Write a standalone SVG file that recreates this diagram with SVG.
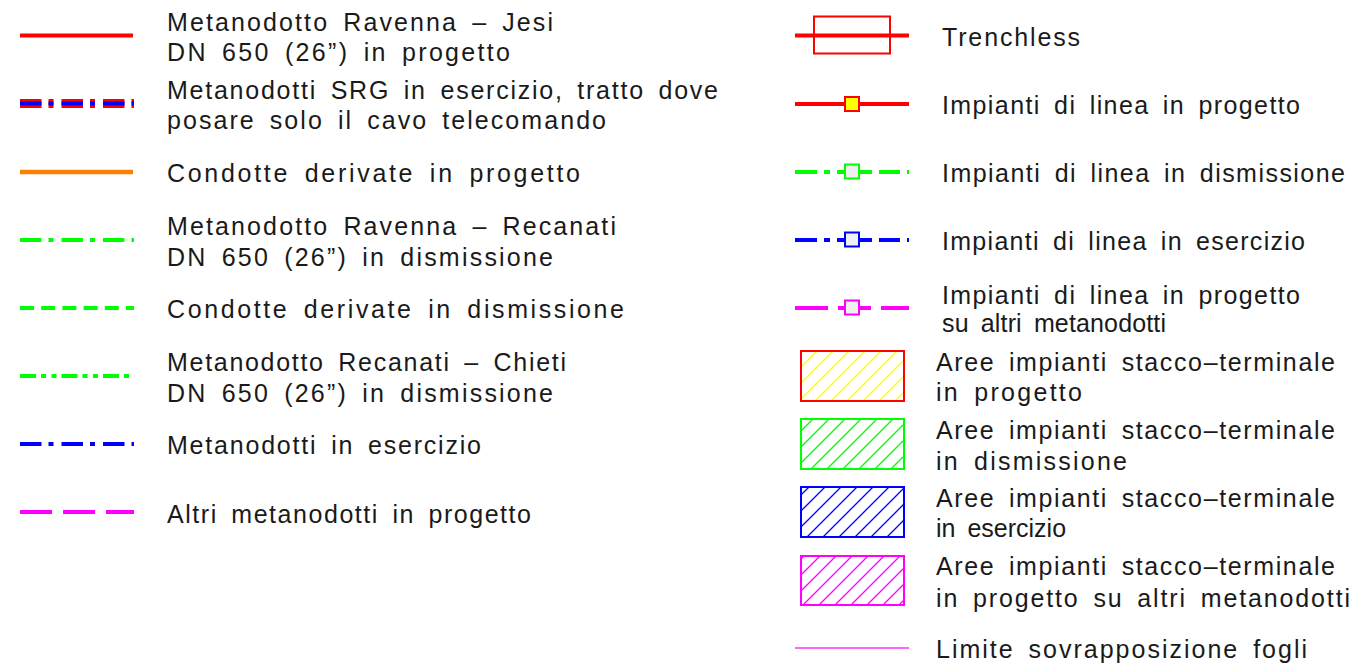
<svg xmlns="http://www.w3.org/2000/svg" width="1351" height="669" viewBox="0 0 1351 669">
<style>
text{font-family:"Liberation Sans",Arial,sans-serif;font-size:25px;fill:#1a1a1a;word-spacing:5px}
.ln{fill:none;stroke-linecap:butt}
.dd{stroke-dasharray:21.5 7 5 8}
.box{fill:#f0f0f0;stroke-width:2}
.area{stroke-width:2}
</style>
<defs>
<pattern id="hy" patternUnits="userSpaceOnUse" width="16" height="16"><path d="M-4,4 L4,-4 M0,16 L16,0 M12,20 L20,12" stroke="#ffff00" stroke-width="1.3"/></pattern>
<pattern id="hg" patternUnits="userSpaceOnUse" width="16" height="16"><path d="M-4,4 L4,-4 M0,16 L16,0 M12,20 L20,12" stroke="#00ff00" stroke-width="1.3"/></pattern>
<pattern id="hb" patternUnits="userSpaceOnUse" width="16" height="16"><path d="M-4,4 L4,-4 M0,16 L16,0 M12,20 L20,12" stroke="#0000ff" stroke-width="1.3"/></pattern>
<pattern id="hm" patternUnits="userSpaceOnUse" width="16" height="16"><path d="M-4,4 L4,-4 M0,16 L16,0 M12,20 L20,12" stroke="#ff00ff" stroke-width="1.3"/></pattern>
</defs>
<rect width="1351" height="669" fill="#ffffff"/>
<g id="connectors"></g>

<g id="item-ravenna-jesi">
<line class="ln" x1="20" y1="35.5" x2="133" y2="35.5" stroke="#ff0000" stroke-width="4"/>
<text x="167" y="31" textLength="386">Metanodotto Ravenna – Jesi</text>
<text x="167" y="61" textLength="343">DN 650 (26”) in progetto</text>
</g>
<g id="item-srg">
<line class="ln dd" x1="20" y1="103.5" x2="134" y2="103.5" stroke="#ff0000" stroke-width="9"/>
<line class="ln dd" x1="20" y1="103.5" x2="134" y2="103.5" stroke="#0000ff" stroke-width="4"/>
<text x="167" y="99" textLength="551">Metanodotti SRG in esercizio, tratto dove</text>
<text x="167" y="129" textLength="439">posare solo il cavo telecomando</text>
</g>
<g id="item-condotte-progetto">
<line class="ln" x1="20" y1="172" x2="133" y2="172" stroke="#ff8000" stroke-width="4.5"/>
<text x="167" y="182" textLength="413">Condotte derivate in progetto</text>
</g>
<g id="item-ravenna-recanati">
<line class="ln dd" x1="20" y1="240" x2="134" y2="240" stroke="#00ff00" stroke-width="4"/>
<text x="167" y="235" textLength="449">Metanodotto Ravenna – Recanati</text>
<text x="167" y="266" textLength="386">DN 650 (26”) in dismissione</text>
</g>
<g id="item-condotte-dismissione">
<line class="ln" x1="20" y1="308" x2="134" y2="308" stroke="#00ff00" stroke-width="4" stroke-dasharray="14 7.2"/>
<text x="167" y="318" textLength="457">Condotte derivate in dismissione</text>
</g>
<g id="item-recanati-chieti">
<line class="ln" x1="20" y1="376" x2="130" y2="376" stroke="#00ff00" stroke-width="4" stroke-dasharray="16 5 5 5.5 5 5"/>
<text x="167" y="371" textLength="399">Metanodotto Recanati – Chieti</text>
<text x="167" y="402" textLength="386">DN 650 (26”) in dismissione</text>
</g>
<g id="item-esercizio">
<line class="ln dd" x1="20" y1="444" x2="134" y2="444" stroke="#0000ff" stroke-width="4"/>
<text x="167" y="454" textLength="314">Metanodotti in esercizio</text>
</g>
<g id="item-altri">
<line class="ln" x1="20" y1="512" x2="134" y2="512" stroke="#ff00ff" stroke-width="4" stroke-dasharray="32 11"/>
<text x="167" y="523" textLength="364">Altri metanodotti in progetto</text>
</g>

<g id="item-trenchless">
<line class="ln" x1="795" y1="35.5" x2="909" y2="35.5" stroke="#ff0000" stroke-width="4"/>
<rect x="814" y="16.5" width="76" height="37" fill="none" stroke="#ff0000" stroke-width="2"/>
<text x="942" y="46" textLength="138">Trenchless</text>
</g>
<g id="item-impianti-progetto">
<line class="ln" x1="795" y1="104" x2="909" y2="104" stroke="#ff0000" stroke-width="4"/>
<rect x="845" y="97" width="14" height="14" fill="#ffff00" stroke="#ff0000" stroke-width="2"/>
<text x="942" y="114" textLength="358">Impianti di linea in progetto</text>
</g>
<g id="item-impianti-dismissione" stroke="#00ff00">
<path class="ln" stroke-width="4" d="M795,172H817M824,172H830M837,172H845M859,172H872M879,172H900M907,172H909"/>
<rect class="box" x="845" y="164.5" width="14" height="14"/>
<text x="942" y="182" textLength="403" stroke="none">Impianti di linea in dismissione</text>
</g>
<g id="item-impianti-esercizio" stroke="#0000ff">
<path class="ln" stroke-width="4" d="M795,240H817M824,240H830M837,240H845M859,240H872M879,240H900M907,240H909"/>
<rect class="box" x="845" y="232.5" width="14" height="14"/>
<text x="942" y="250" textLength="363" stroke="none">Impianti di linea in esercizio</text>
</g>
<g id="item-impianti-altri" stroke="#ff00ff">
<path class="ln" stroke-width="4" d="M795,308H828M838,308H845M859,308H871M881,308H909"/>
<rect class="box" x="845" y="300.5" width="14" height="14"/>
<text x="942" y="304" textLength="358" stroke="none">Impianti di linea in progetto</text>
<text x="942" y="332" textLength="224" stroke="none">su altri metanodotti</text>
</g>
<g id="item-aree-progetto">
<rect class="area" x="801" y="351" width="103" height="50" fill="url(#hy)" stroke="#ff0000"/>
<text x="936" y="371" textLength="399">Aree impianti stacco–terminale</text>
<text x="936" y="401" textLength="146">in progetto</text>
</g>
<g id="item-aree-dismissione">
<rect class="area" x="801" y="419" width="103" height="50" fill="url(#hg)" stroke="#00ff00"/>
<text x="936" y="439" textLength="399">Aree impianti stacco–terminale</text>
<text x="936" y="470" textLength="191">in dismissione</text>
</g>
<g id="item-aree-esercizio">
<rect class="area" x="801" y="487" width="103" height="50" fill="url(#hb)" stroke="#0000ff"/>
<text x="936" y="507" textLength="399">Aree impianti stacco–terminale</text>
<text x="936" y="537">in esercizio</text>
</g>
<g id="item-aree-altri">
<rect class="area" x="801" y="556" width="103" height="49" fill="url(#hm)" stroke="#ff00ff"/>
<text x="936" y="575" textLength="399">Aree impianti stacco–terminale</text>
<text x="936" y="607" textLength="414">in progetto su altri metanodotti</text>
</g>
<g id="item-limite">
<line x1="795" y1="648" x2="909" y2="648" stroke="#ff66ff" stroke-width="2"/>
<text x="936" y="658" textLength="371">Limite sovrapposizione fogli</text>
</g>
</svg>
